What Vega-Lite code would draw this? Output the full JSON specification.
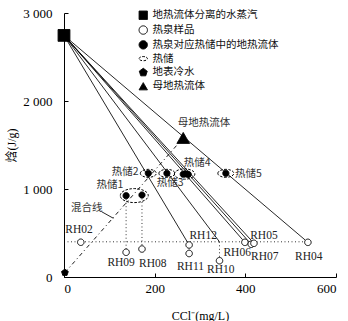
{
  "$schema": "https://vega.github.io/schema/vega-lite/v6.json",
  "width": 272,
  "height": 264,
  "autosize": {"type": "none"},
  "padding": {"left": 64, "top": 13, "right": 12, "bottom": 44},
  "background": "white",
  "config": {
    "view": {"stroke": null},
    "axis": {
      "grid": false,
      "domainColor": "black",
      "tickColor": "black",
      "labelColor": "black",
      "titleColor": "black",
      "labelFont": "Liberation Serif",
      "labelFontSize": 13,
      "titleFont": "Liberation Serif, Noto Sans CJK SC",
      "titleFontSize": 12,
      "titleFontWeight": "normal",
      "tickSize": -4
    },
    "legend": {
      "orient": "none",
      "legendX": 74,
      "legendY": -3,
      "padding": 0,
      "labelFont": "Noto Sans CJK SC",
      "labelFontSize": 10.5,
      "labelColor": "#111",
      "symbolSize": 70,
      "symbolStrokeWidth": 1,
      "rowPadding": 1.8,
      "labelOffset": 4
    }
  },
  "datasets": {
    "solidLines": [
      {"id": "RH12", "o": 0, "x": 0, "y": 2745}, {"id": "RH12", "o": 1, "x": 276, "y": 364},
      {"id": "RH10", "o": 0, "x": 0, "y": 2745}, {"id": "RH10", "o": 1, "x": 343, "y": 400},
      {"id": "RH06", "o": 0, "x": 0, "y": 2745}, {"id": "RH06", "o": 1, "x": 399, "y": 394},
      {"id": "RH07", "o": 0, "x": 0, "y": 2745}, {"id": "RH07", "o": 1, "x": 413, "y": 372},
      {"id": "RH05", "o": 0, "x": 0, "y": 2745}, {"id": "RH05", "o": 1, "x": 419, "y": 383},
      {"id": "RH04", "o": 0, "x": 0, "y": 2745}, {"id": "RH04", "o": 1, "x": 538, "y": 394},
      {"id": "ptr", "o": 0, "x": 83, "y": 742}, {"id": "ptr", "o": 1, "x": 109, "y": 667}
    ],
    "dottedLines": [
      {"id": "h", "o": 0, "x": 0, "y": 400}, {"id": "h", "o": 1, "x": 540, "y": 400},
      {"id": "v09", "o": 0, "x": 137, "y": 924}, {"id": "v09", "o": 1, "x": 137, "y": 281},
      {"id": "v08", "o": 0, "x": 172, "y": 932}, {"id": "v08", "o": 1, "x": 172, "y": 318},
      {"id": "v10", "o": 0, "x": 343, "y": 400}, {"id": "v10", "o": 1, "x": 343, "y": 185},
      {"id": "v11", "o": 0, "x": 276, "y": 364}, {"id": "v11", "o": 1, "x": 276, "y": 267}
    ],
    "mixLine": [
      {"o": 0, "x": 2, "y": 50}, {"o": 1, "x": 263, "y": 1580}
    ],
    "points": [
      {"type": "地热流体分离的水蒸汽", "x": 0, "y": 2745},
      {"type": "地表冷水", "x": 2, "y": 50},
      {"type": "母地热流体", "x": 263, "y": 1580},
      {"type": "热泉样品", "name": "RH02", "x": 37, "y": 395},
      {"type": "热泉样品", "name": "RH09", "x": 137, "y": 281},
      {"type": "热泉样品", "name": "RH08", "x": 172, "y": 318},
      {"type": "热泉样品", "name": "RH12", "x": 276, "y": 364},
      {"type": "热泉样品", "name": "RH11", "x": 276, "y": 267},
      {"type": "热泉样品", "name": "RH10", "x": 343, "y": 185},
      {"type": "热泉样品", "name": "RH06", "x": 399, "y": 394},
      {"type": "热泉样品", "name": "RH07", "x": 413, "y": 372},
      {"type": "热泉样品", "name": "RH05", "x": 419, "y": 383},
      {"type": "热泉样品", "name": "RH04", "x": 538, "y": 394},
      {"type": "热泉对应热储中的地热流体", "x": 137, "y": 924},
      {"type": "热泉对应热储中的地热流体", "x": 172, "y": 932},
      {"type": "热泉对应热储中的地热流体", "x": 186, "y": 1178},
      {"type": "热泉对应热储中的地热流体", "x": 227, "y": 1178},
      {"type": "热泉对应热储中的地热流体", "x": 263, "y": 1168},
      {"type": "热泉对应热储中的地热流体", "x": 268, "y": 1172},
      {"type": "热泉对应热储中的地热流体", "x": 274, "y": 1166},
      {"type": "热泉对应热储中的地热流体", "x": 357, "y": 1178}
    ],
    "reservoirs": [
      {"type": "热储", "name": "热储1", "x": 155, "y": 925, "spread": 35},
      {"type": "热储", "name": "热储2", "x": 186, "y": 1178, "spread": 0},
      {"type": "热储", "name": "热储3", "x": 227, "y": 1178, "spread": 0},
      {"type": "热储", "name": "热储4", "x": 266, "y": 1170, "spread": 11},
      {"type": "热储", "name": "热储5", "x": 357, "y": 1178, "spread": 0}
    ],
    "labelsRH": [
      {"t": "RH02", "x": 33, "y": 534},
      {"t": "RH09", "x": 126, "y": 156},
      {"t": "RH08", "x": 196, "y": 144},
      {"t": "RH12", "x": 307, "y": 466},
      {"t": "RH11", "x": 279, "y": 110},
      {"t": "RH10", "x": 346, "y": 80},
      {"t": "RH06", "x": 382, "y": 269},
      {"t": "RH07", "x": 443, "y": 224},
      {"t": "RH05", "x": 441, "y": 466},
      {"t": "RH04", "x": 540, "y": 231}
    ],
    "labelsCN": [
      {"t": "热储1", "x": 101, "y": 1045},
      {"t": "热储2", "x": 135, "y": 1190},
      {"t": "热储3", "x": 234, "y": 1065},
      {"t": "热储4", "x": 294, "y": 1292},
      {"t": "热储5", "x": 407, "y": 1170},
      {"t": "母地热流体", "x": 309, "y": 1753},
      {"t": "混合线", "x": 50, "y": 780}
    ]
  },
  "encoding": {
    "x": {
      "field": "x", "type": "quantitative",
      "scale": {"domain": [0, 600], "nice": false, "zero": false},
      "axis": {"values": [0, 200, 400, 600], "title": "CCl⁻(mg/L)", "labelPadding": 9, "titlePadding": 15}
    },
    "y": {
      "field": "y", "type": "quantitative",
      "scale": {"domain": [0, 3000], "nice": false, "zero": false},
      "axis": {"values": [0, 1000, 2000, 3000], "labelExpr": "replace(format(datum.value, ','), ',', ' ')", "title": "焓(J/g)", "labelPadding": 16, "titlePadding": 4}
    },
    "shape": {
      "field": "type", "type": "nominal",
      "scale": {
        "domain": ["地热流体分离的水蒸汽", "热泉样品", "热泉对应热储中的地热流体", "热储", "地表冷水", "母地热流体"],
        "range": ["square", "circle", "circle", "M-1,0A1,0.5,0,1,1,1,0A1,0.5,0,1,1,-1,0Z", "M0,-1L0.951,-0.309L0.588,0.809L-0.588,0.809L-0.951,-0.309Z", "triangle-up"]
      },
      "legend": {"title": null}
    },
    "fill": {
      "field": "type", "type": "nominal",
      "scale": {
        "domain": ["地热流体分离的水蒸汽", "热泉样品", "热泉对应热储中的地热流体", "热储", "地表冷水", "母地热流体"],
        "range": ["black", "white", "black", "transparent", "black", "black"]
      },
      "legend": {"title": null}
    },
    "stroke": {
      "field": "type", "type": "nominal",
      "scale": {
        "domain": ["地热流体分离的水蒸汽", "热泉样品", "热泉对应热储中的地热流体", "热储", "地表冷水", "母地热流体"],
        "range": ["black", "black", "black", "black", "black", "black"]
      },
      "legend": {"title": null}
    },
    "strokeDash": {
      "field": "type", "type": "nominal",
      "scale": {
        "domain": ["地热流体分离的水蒸汽", "热泉样品", "热泉对应热储中的地热流体", "热储", "地表冷水", "母地热流体"],
        "range": [[1, 0], [1, 0], [1, 0], [2.5, 1.5], [1, 0], [1, 0]]
      },
      "legend": {"title": null}
    }
  },
  "layer": [
    {
      "data": {"name": "solidLines"},
      "mark": {"type": "line", "color": "black", "strokeWidth": 0.85},
      "encoding": {"detail": {"field": "id"}, "order": {"field": "o"}, "shape": null, "fill": null, "stroke": null, "strokeDash": null}
    },
    {
      "data": {"name": "dottedLines"},
      "mark": {"type": "line", "color": "black", "strokeWidth": 0.8, "strokeDash": [1, 2.5]},
      "encoding": {"detail": {"field": "id"}, "order": {"field": "o"}, "shape": null, "fill": null, "stroke": null, "strokeDash": null}
    },
    {
      "data": {"name": "mixLine"},
      "mark": {"type": "line", "color": "black", "strokeWidth": 0.9, "strokeDash": [4, 3, 1, 3]},
      "encoding": {"order": {"field": "o"}, "shape": null, "fill": null, "stroke": null, "strokeDash": null}
    },
    {
      "data": {"name": "reservoirs"},
      "mark": {"type": "point", "strokeWidth": 1, "opacity": 1},
      "encoding": {
        "size": {"field": "spread", "type": "quantitative", "legend": null, "scale": {"domain": [0, 35], "range": [256, 784], "zero": false}}
      }
    },
    {
      "data": {"name": "points"},
      "transform": [{"filter": "datum.type == '热泉样品'"}],
      "mark": {"type": "point", "strokeWidth": 1, "opacity": 1, "size": 42}
    },
    {
      "data": {"name": "points"},
      "transform": [{"filter": "datum.type == '热泉对应热储中的地热流体'"}],
      "mark": {"type": "point", "strokeWidth": 1, "opacity": 1, "size": 38}
    },
    {
      "data": {"name": "points"},
      "transform": [{"filter": "datum.type == '地热流体分离的水蒸汽'"}],
      "mark": {"type": "point", "strokeWidth": 1, "opacity": 1, "size": 140}
    },
    {
      "data": {"name": "points"},
      "transform": [{"filter": "datum.type == '地表冷水'"}],
      "mark": {"type": "point", "strokeWidth": 1, "opacity": 1, "size": 50}
    },
    {
      "data": {"name": "points"},
      "transform": [{"filter": "datum.type == '母地热流体'"}],
      "mark": {"type": "point", "strokeWidth": 1, "opacity": 1, "size": 160}
    },
    {
      "data": {"name": "labelsRH"},
      "mark": {"type": "text", "font": "Liberation Serif", "fontSize": 11.5, "color": "#222", "align": "center", "baseline": "middle"},
      "encoding": {"text": {"field": "t"}, "shape": null, "fill": null, "stroke": null, "strokeDash": null}
    },
    {
      "data": {"name": "labelsCN"},
      "mark": {"type": "text", "font": "Noto Sans CJK SC", "fontSize": 10.5, "color": "#333", "align": "center", "baseline": "middle"},
      "encoding": {"text": {"field": "t"}, "shape": null, "fill": null, "stroke": null, "strokeDash": null}
    }
  ]
}
